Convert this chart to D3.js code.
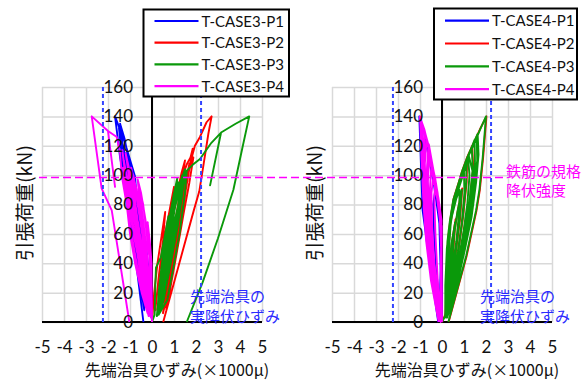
<!DOCTYPE html>
<html><head><meta charset="utf-8">
<script src="https://cdn.jsdelivr.net/npm/d3@7"></script>
<style>body{margin:0;background:#fff}svg{display:block}</style>
</head><body>
<svg id="c" width="587" height="380"></svg>
<script>
const xTicks = [-5,-4,-3,-2,-1,0,1,2,3,4,5];
const yTicks = [0,20,40,60,80,100,120,140,160];
const legendCase3 = ["T-CASE3-P1","T-CASE3-P2","T-CASE3-P3","T-CASE3-P4"];
const legendCase4 = ["T-CASE4-P1","T-CASE4-P2","T-CASE4-P3","T-CASE4-P4"];
const xTitle = "先端治具ひずみ(×1000μ)";
const yTitle = "引張荷重(kN)";
const jigNote = ["先端治具の","実降伏ひずみ"];
const rebarNote = ["鉄筋の規格","降伏強度"];
const jigYieldStrain = 2.23;   // ×1000μ
const rebarYieldLoad = 98.4;   // kN

// [strain (×1000μ), load (kN)]
const case3P1 = [[0,0],[-0.05,15],[-0.15,35],[-0.3,55],[-0.2,40],[-0.1,20],[-0.05,5],
[-0.2,30],[-0.4,55],[-0.6,75],[-0.45,55],[-0.25,28],[-0.1,6],
[-0.3,35],[-0.55,65],[-0.8,90],[-0.95,105],[-0.8,85],[-0.5,45],[-0.2,10],
[-0.4,40],[-0.7,75],[-1.0,100],[-1.2,115],[-1.05,95],[-0.7,55],[-0.3,12],
[-0.5,45],[-0.85,85],[-1.15,108],[-1.35,122],[-1.5,132],[-1.35,110],[-0.9,60],[-0.35,8],
[-0.6,60],[-0.95,102],[-1.25,125],[-1.45,135],[-1.3,115],[-0.95,80],[-0.5,20],
[-0.45,30],[-0.77,99],[-1.23,122],[-1.68,140],[-1.45,112],[-1.15,88],[-0.8,50],[-0.39,0]];
const case3P2 = [[0,0],[0.1,20],[0.25,40],[0.45,60],[0.6,75],[0.5,55],[0.3,30],[0.15,8],
[0.35,35],[0.6,60],[0.85,80],[1.0,92],[0.85,70],[0.55,40],[0.25,8],
[0.5,35],[0.8,60],[1.1,85],[1.35,102],[1.5,110],[1.3,90],[0.9,55],[0.4,8],
[0.7,40],[1.0,65],[1.3,88],[1.45,102],[1.6,108],[1.75,112],[1.85,118],[1.65,100],[1.2,60],[0.6,10],
[0.85,38],[1.15,62],[1.45,88],[1.7,108],[1.55,92],[1.3,70],[0.95,35],[0.5,6],
[0.7,30],[1.0,55],[1.3,80],[1.55,98],[1.72,106],[1.88,112],[1.7,95],[1.45,75],[1.1,45],[0.65,8],
[0.9,40],[1.2,65],[1.5,90],[1.7,106],[1.95,120],[2.18,126],[2.48,136],[2.71,140],[2.56,128],[2.33,106],[2.15,89],[1.9,76],[0.51,0]];
const case3P3 = [[0,0],[0.12,5],[0.15,25],[0.18,37],[0.4,44],[0.6,60],[0.75,72],[0.6,55],[0.35,25],[0.25,5],
[0.3,20],[0.45,40],[0.7,60],[0.9,75],[1.05,85],[0.95,65],[0.7,42],[0.45,20],[0.28,6],
[0.35,25],[0.6,50],[0.85,70],[1.05,85],[1.2,95],[1.0,75],[0.65,40],[0.3,6],
[0.4,25],[0.62,48],[0.88,68],[1.12,85],[1.3,96],[1.18,78],[0.92,55],[0.62,30],[0.32,8],
[0.45,30],[0.75,55],[1.0,75],[1.25,92],[1.42,98],[1.25,82],[0.85,48],[0.35,8],
[0.42,28],[0.66,52],[0.95,75],[1.2,90],[1.38,100],[1.3,85],[1.05,62],[0.75,38],[0.4,10],
[0.55,30],[0.9,60],[1.2,80],[1.45,95],[1.58,103],[1.5,88],[1.25,60],[0.7,15],[0.3,5],
[0.38,18],[0.55,40],[0.8,62],[1.02,80],[0.92,62],[0.7,40],[0.45,15],[0.22,4],
[0.35,25],[0.5,45],[0.72,65],[0.98,86],[1.15,98],[1.05,80],[0.8,55],[0.55,30],[0.3,8],
[0.52,30],[0.78,55],[1.05,78],[1.3,95],[1.5,104],[1.4,90],[1.18,66],[0.88,42],[0.52,14],[0.3,5],
[0.6,35],[0.95,62],[1.3,85],[1.58,103],[1.85,107],[2.18,111],[2.7,122],[3.14,129],[2.64,93],[3.14,129],[3.8,135],[4.42,140],[4.1,118],[3.7,90],[3.0,57],[2.3,27],[1.58,0]];
const case3P4 = [[0,0],[-0.01,20],[-0.02,40],[-0.1,55],[-0.2,68],[-0.12,50],[-0.05,25],[-0.03,5],
[-0.06,30],[-0.15,50],[-0.3,70],[-0.5,88],[-0.65,97],[-0.55,80],[-0.38,60],[-0.2,35],[-0.05,6],
[-0.09,40],[-0.24,60],[-0.4,80],[-0.55,90],[-0.45,75],[-0.25,50],[-0.1,20],[-0.04,4],
[-0.12,30],[-0.3,52],[-0.5,72],[-0.7,90],[-0.95,105],[-0.85,88],[-0.62,65],[-0.4,42],[-0.15,12],[-0.05,3],
[-0.2,40],[-0.45,65],[-0.65,85],[-0.85,100],[-0.7,85],[-0.45,60],[-0.2,25],[-0.06,4],
[-0.25,30],[-0.5,55],[-0.72,75],[-0.92,92],[-1.12,108],[-1.0,90],[-0.8,70],[-0.58,48],[-0.3,22],[-0.08,4],
[-0.35,40],[-0.6,65],[-0.85,85],[-1.05,105],[-1.2,115],[-1.0,95],[-0.7,65],[-0.4,35],[-0.12,5],
[-0.38,32],[-0.65,55],[-0.9,78],[-1.1,95],[-1.28,110],[-1.15,92],[-0.95,72],[-0.7,50],[-0.42,26],[-0.12,5],
[-0.2,35],[-0.4,58],[-0.6,78],[-0.85,98],[-0.75,80],[-0.55,58],[-0.35,38],[-0.15,15],[-0.02,3],
[-0.25,15],[-0.55,38],[-0.82,58],[-1.02,76],[-1.2,92],[-1.32,105],[-1.18,84],[-0.98,64],[-0.72,42],[-0.45,20],[-0.15,4],
[-0.55,40],[-0.85,65],[-1.05,85],[-1.25,105],[-1.35,117],[-1.2,100],[-0.9,70],[-0.55,35],[-0.2,6],
[-0.47,20],[-0.77,40],[-1.0,60],[-1.15,80],[-1.38,100],[-1.45,115],[-1.6,126],[-2.0,130],[-1.68,92],[-2.0,130],[-2.74,140],[-2.29,91],[-1.83,76],[-1.45,40],[-1.03,0]];

const case4P1 = [[0,0],[-0.02,30],[-0.05,55],[-0.15,75],[-0.3,90],[-0.4,80],[-0.35,55],[-0.2,25],[-0.08,3],
[-0.05,35],[-0.1,65],[-0.3,88],[-0.5,105],[-0.62,115],[-0.68,95],[-0.6,65],[-0.4,35],[-0.12,3],
[-0.06,35],[-0.12,68],[-0.35,92],[-0.6,112],[-0.8,128],[-1.03,140],[-0.95,105],[-0.88,76],[-0.6,45],[-0.17,0]];
const case4P2 = [[0,0],[0.15,5],[0.27,32],[0.46,55],[0.62,70],[0.52,50],[0.36,24],[0.2,5],
[0.32,32],[0.52,57],[0.72,76],[0.92,91],[0.82,70],[0.6,44],[0.34,14],[0.16,4],
[0.2,30],[0.27,56],[0.38,70],[0.53,84],[0.76,95],[0.92,103],[1.14,112],[1.12,95],[0.96,72],[0.76,50],[0.5,24],[0.22,5],
[0.22,32],[0.33,62],[0.52,81],[0.76,95],[0.98,105],[1.37,120],[1.42,105],[1.26,82],[1.0,60],[0.7,34],[0.4,12],[0.2,4],
[0.24,36],[0.37,66],[0.57,83],[0.82,97],[1.14,112],[1.6,127],[1.75,132],[2.02,140],[1.87,112],[1.72,90],[1.57,76],[1.12,45],[0.3,0]];
const case4P3 = [[0,0],[0.14,4],[0.25,30],[0.44,54],[0.6,68],[0.5,50],[0.35,25],[0.2,5],
[0.16,20],[0.2,42],[0.3,58],[0.45,72],[0.65,84],[0.8,90],[0.78,75],[0.65,55],[0.45,35],[0.3,15],[0.18,3],
[0.3,30],[0.5,55],[0.7,75],[0.9,90],[0.8,70],[0.6,45],[0.35,15],[0.15,4],
[0.15,25],[0.22,50],[0.35,66],[0.55,80],[0.78,92],[1.0,102],[1.02,88],[0.9,68],[0.72,48],[0.5,28],[0.3,10],[0.2,3],
[0.18,30],[0.25,55],[0.36,69],[0.51,83],[0.74,94],[0.9,102],[1.12,111],[1.1,95],[0.95,72],[0.75,50],[0.5,25],[0.22,5],
[0.17,28],[0.26,56],[0.42,72],[0.62,86],[0.88,99],[1.18,112],[1.25,100],[1.15,80],[0.98,62],[0.75,42],[0.5,22],[0.26,5],
[0.2,30],[0.3,60],[0.5,80],[0.74,94],[0.95,104],[1.12,111],[1.35,119],[1.4,105],[1.25,82],[1.0,60],[0.7,35],[0.4,12],[0.2,4],
[0.2,32],[0.3,62],[0.48,78],[0.7,90],[1.0,104],[1.28,116],[1.48,124],[1.5,108],[1.38,88],[1.15,68],[0.9,48],[0.6,26],[0.3,6],
[0.22,35],[0.35,65],[0.55,82],[0.8,96],[1.12,111],[1.35,119],[1.58,126],[1.6,110],[1.45,88],[1.2,65],[0.85,40],[0.5,15],[0.25,4],
[0.22,30],[0.28,58],[0.45,74],[0.68,88],[0.95,100],[1.22,113],[1.4,102],[1.3,82],[1.1,62],[0.82,40],[0.55,20],[0.24,3],
[0.2,36],[0.32,64],[0.52,80],[0.78,94],[1.05,106],[1.35,119],[1.62,128],[1.66,114],[1.55,95],[1.35,72],[1.05,50],[0.72,28],[0.4,9],[0.22,3],
[0.25,35],[0.4,68],[0.6,85],[0.9,100],[1.2,113],[1.45,121],[1.73,131],[2.0,140],[1.85,112],[1.7,90],[1.55,76],[1.1,45],[0.29,0]];
const case4P4 = [[0,0],[-0.01,30],[-0.02,55],[-0.1,75],[-0.2,88],[-0.3,96],[-0.35,85],[-0.3,60],[-0.2,30],[-0.08,3],
[-0.03,25],[-0.02,50],[-0.06,70],[-0.2,87],[-0.38,100],[-0.48,88],[-0.45,65],[-0.35,40],[-0.2,18],[-0.06,2],
[-0.05,30],[-0.03,60],[-0.12,80],[-0.3,97],[-0.47,109],[-0.55,90],[-0.5,60],[-0.35,30],[-0.12,3],
[-0.04,28],[-0.02,55],[-0.05,72],[-0.25,90],[-0.45,106],[-0.6,115],[-0.66,98],[-0.58,72],[-0.45,48],[-0.28,22],[-0.08,2],
[-0.06,30],[-0.03,62],[-0.1,78],[-0.32,97],[-0.5,112],[-0.62,120],[-0.7,100],[-0.65,70],[-0.5,40],[-0.3,15],[-0.1,2],
[-0.05,30],[-0.02,60],[-0.1,78],[-0.3,95],[-0.5,110],[-0.7,124],[-0.78,108],[-0.72,82],[-0.6,58],[-0.42,32],[-0.2,10],[-0.06,1],
[-0.05,30],[-0.02,65],[-0.17,85],[-0.35,98],[-0.55,117],[-0.77,129],[-0.85,110],[-0.77,80],[-0.62,50],[-0.4,20],[-0.12,2],
[-0.06,25],[-0.04,50],[-0.1,70],[-0.22,84],[-0.42,100],[-0.58,112],[-0.64,96],[-0.6,75],[-0.5,52],[-0.36,30],[-0.18,10],[-0.04,1],
[-0.03,32],[-0.01,62],[-0.12,80],[-0.33,97],[-0.52,114],[-0.72,126],[-0.86,132],[-0.9,112],[-0.8,85],[-0.68,60],[-0.52,38],[-0.32,15],[-0.1,1],
[-0.04,32],[-0.01,58],[-0.08,74],[-0.25,92],[-0.42,106],[-0.6,121],[-0.68,104],[-0.72,86],[-0.6,62],[-0.45,38],[-0.25,14],[-0.08,1],
[-0.02,35],[-0.01,65],[-0.14,82],[-0.36,100],[-0.56,116],[-0.8,131],[-0.94,137],[-0.9,118],[-0.82,92],[-0.72,68],[-0.58,45],[-0.4,24],[-0.2,6],[-0.06,0],
[-0.06,35],[-0.02,69],[-0.17,85],[-0.4,102],[-0.55,117],[-0.77,129],[-1.0,140],[-0.93,110],[-0.84,80],[-0.72,55],[-0.5,28],[-0.15,0]];

const seriesColors = ["#0000ff","#ff0000","#0a990a","#ff00ff"];
const latin = "Lato, 'Liberation Sans', sans-serif";
const cjk = "'Noto Sans CJK JP', sans-serif";

const svg = d3.select("#c");
const y = d3.scaleLinear().domain([0,160]).range([322,87]);

function panel(ox, series, names, leg) {
  const x = d3.scaleLinear().domain([-5,5]).range([ox+42, ox+262]);
  const g = svg.append("g");
  const gx = g.append("g").attr("transform","translate(0,322)")
    .call(d3.axisBottom(x).tickValues(xTicks).tickSize(-(322-87)).tickFormat(""));
  const gy = g.append("g").attr("transform",`translate(${x(-5)},0)`)
    .call(d3.axisLeft(y).tickValues(yTicks).tickSize(-(x(5)-x(-5))).tickFormat(""));
  [gx,gy].forEach(a=>{a.select(".domain").remove();a.selectAll("line").attr("stroke","#d9d9d9").attr("stroke-width",1.5);});
  g.append("line").attr("x1",x(-5)).attr("x2",x(5)).attr("y1",y(0)).attr("y2",y(0)).attr("stroke","#000").attr("stroke-width",2);
  g.append("line").attr("x1",x(0)).attr("x2",x(0)).attr("y1",y(0)).attr("y2",y(160)).attr("stroke","#000").attr("stroke-width",2);
  const line = d3.line().x(d=>x(d[0])).y(d=>y(d[1]));
  series.forEach((s,i)=>{
    g.append("path").datum(s).attr("d",line).attr("fill","none")
     .attr("stroke",seriesColors[i]).attr("stroke-width",1.9).attr("stroke-linejoin","round");
  });
  [-jigYieldStrain, jigYieldStrain].forEach(v=>{
    g.append("line").attr("x1",x(v)).attr("x2",x(v)).attr("y1",y(0)).attr("y2",y(160))
     .attr("stroke","#3344ff").attr("stroke-width",2).attr("stroke-dasharray","4,3");
  });
  const xl = g.append("g").attr("transform","translate(0,322)")
    .call(d3.axisBottom(x).tickValues(xTicks).tickSize(0).tickPadding(18.5).tickFormat(d=>String(d)));
  const yl = g.append("g").attr("transform",`translate(${x(0)-19},0)`)
    .call(d3.axisLeft(y).tickValues(yTicks).tickSize(0).tickPadding(0).tickFormat(d=>String(d)));
  [xl,yl].forEach(a=>{a.select(".domain").remove();a.selectAll("text").attr("font-family",latin).attr("font-size",17).attr("fill","#111");});
  g.append("text").attr("x",x(0)+25).attr("y",375.5).attr("text-anchor","middle")
   .attr("font-family",cjk).attr("font-size",16).attr("fill","#111").text(xTitle);
  g.append("text").attr("transform",`translate(${ox+32},203) rotate(-90)`).attr("text-anchor","middle")
   .attr("font-family",cjk).attr("font-size",19.5).attr("fill","#111").text(yTitle);
  jigNote.forEach((t,i)=>{
    g.append("text").attr("x",x(0)+38).attr("y",302+i*19.5).attr("font-family",cjk)
     .attr("font-size",15).attr("fill","#2a2aff").text(t);
  });
  const lg = g.append("g");
  lg.append("rect").attr("x",leg.x).attr("y",leg.y).attr("width",leg.w).attr("height",leg.h)
    .attr("fill","#fff").attr("stroke","#000").attr("stroke-width",2);
  names.forEach((n,i)=>{
    const yy = leg.y + leg.first + i*leg.step;
    lg.append("line").attr("x1",leg.x+11).attr("x2",leg.x+55).attr("y1",yy).attr("y2",yy)
      .attr("stroke",seriesColors[i]).attr("stroke-width",2.2);
    lg.append("text").attr("x",leg.x+58).attr("y",yy+5.5).attr("font-family",latin)
      .attr("font-size",15).attr("fill","#111").text(n);
  });
  return x;
}

panel(0, [case3P1,case3P2,case3P3,case3P4], legendCase3, {x:143.5,y:9.5,w:145.5,h:87,first:11.5,step:21.7});
panel(290, [case4P1,case4P2,case4P3,case4P4], legendCase4, {x:434,y:8.5,w:143,h:91,first:12.2,step:22.8});

svg.append("line").attr("x1",39).attr("x2",503).attr("y1",y(rebarYieldLoad)).attr("y2",y(rebarYieldLoad))
  .attr("stroke","#ff00ff").attr("stroke-width",1.5).attr("stroke-dasharray","8,4");
rebarNote.forEach((t,i)=>{
  svg.append("text").attr("x",506).attr("y",177+i*19).attr("font-family",cjk)
    .attr("font-size",15).attr("fill","#ff00ff").text(t);
});
</script>
</body></html>
